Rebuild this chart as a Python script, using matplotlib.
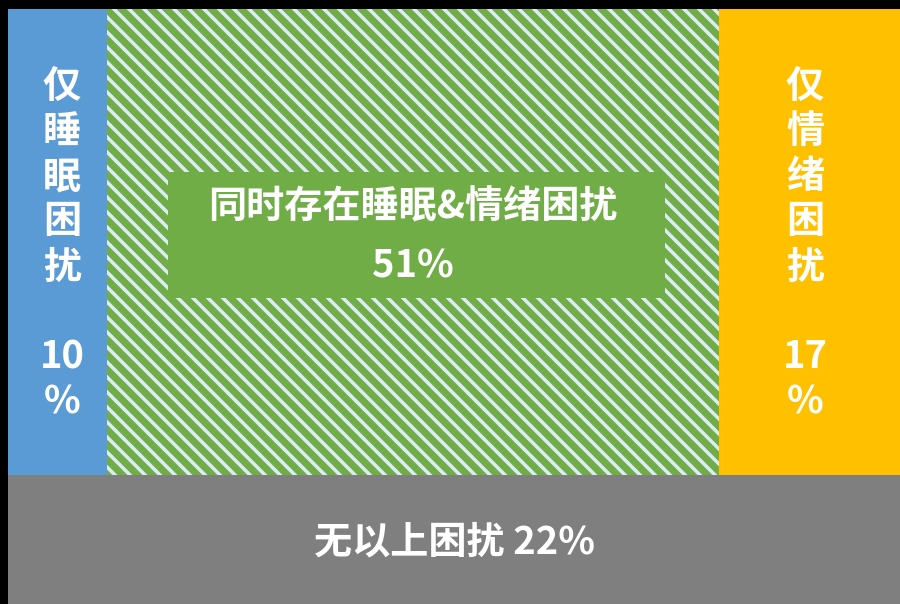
import matplotlib.pyplot as plt
from matplotlib.patches import Rectangle

## Data
groups = ['仅睡眠困扰', '同时存在睡眠&情绪困扰', '仅情绪困扰', '无以上困扰']
shares = [10, 51, 17, 22]
## Widths of the three top columns as drawn (share of the full width)
col_widths = [11.1, 68.6, 20.3]
colors = ['#5B9BD5', '#70AD47', '#FFC000', '#7F7F7F']
stripe_color = '#DDEBF7'

plt.rcParams['font.family'] = ['Noto Sans CJK SC', 'DejaVu Sans']
plt.rcParams['hatch.linewidth'] = 2.8
plt.rcParams['hatch.color'] = stripe_color

fig = plt.figure(figsize=(10, 604 / 90), dpi=90, facecolor='black')
ax = fig.add_axes([8 / 900, 0, 892 / 900, 595 / 604])
ax.set_xlim(0, 100)
ax.set_ylim(0, 100)
ax.axis('off')

## Bottom band: none of the above
bottom_h = shares[3]
ax.add_patch(Rectangle((0, 0), 100, bottom_h - 0.3, facecolor=colors[3], linewidth=0))

## Top columns
top_h = 100 - bottom_h
x0 = 0
lefts = []
for i, w in enumerate(col_widths):
    if i == 1:
        ax.add_patch(Rectangle((x0, bottom_h - 0.3), w, top_h + 0.3, facecolor=colors[i],
                               edgecolor=stripe_color, linewidth=0, hatch='\\\\'))
    else:
        ax.add_patch(Rectangle((x0, bottom_h - 0.3), w, top_h + 0.3, facecolor=colors[i], linewidth=0))
    lefts.append(x0)
    x0 += w

## Plain box behind the middle label
ax.add_patch(Rectangle((17.9, 51.4), 55.8, 21.2, facecolor=colors[1], linewidth=0, zorder=2))

txt = dict(color='white', fontsize=30.5, fontweight='bold', ha='center', va='center', zorder=3)

## Vertical labels in the side columns
line_step = 7.56
for x_c, i in [(6.05, 0), (89.35, 2)]:
    lines = list(groups[i]) + ['', str(shares[i]), '%']
    for k, s in enumerate(lines):
        if s:
            ax.text(x_c, 86.9 - k * line_step, s, **txt)

## Middle label
mid_x = lefts[1] + col_widths[1] / 2
ax.text(mid_x, 66.7, groups[1], **txt)
ax.text(mid_x, 56.8, f'{shares[1]}%', **txt)

## Bottom label
ax.text(50, bottom_h / 2 - 0.6, f'{groups[3]} {shares[3]}%', **txt)

fig.savefig('out.png', dpi=90, facecolor='black')
